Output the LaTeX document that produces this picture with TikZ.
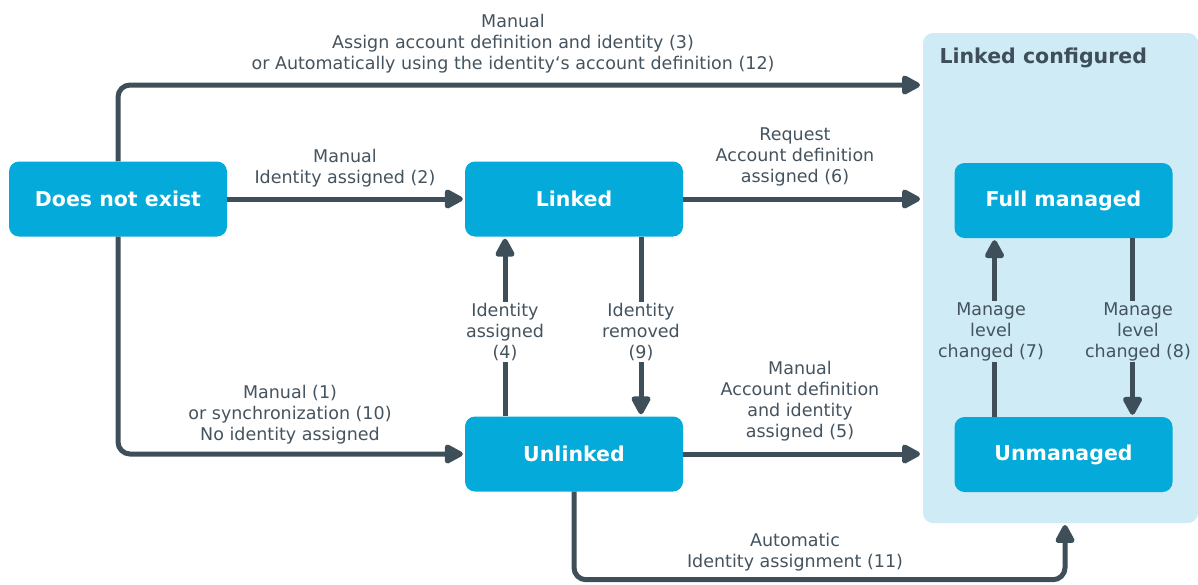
\documentclass[tikz,border=0pt]{standalone}
\usepackage{fontspec}
\setmainfont{DejaVu Sans}
\usetikzlibrary{arrows.meta}
\definecolor{nodeblue}{HTML}{04AAD9}
\definecolor{edgec}{HTML}{3F4F5A}
\definecolor{txt}{HTML}{44535E}
\definecolor{grpc}{HTML}{CFEBF6}
\begin{document}
\begin{tikzpicture}[x=1pt,y=-1pt,
 state/.style={fill=nodeblue, rounded corners=10pt, minimum width=218pt, minimum height=75pt, text=white, font=\fontsize{20.5}{24}\selectfont\bfseries, inner sep=0pt},
 conn/.style={draw=edgec, line width=5pt, rounded corners=12pt, -{Triangle[length=21pt,width=21pt,round]}},
 lbl/.style={text=txt, font=\fontsize{17.5}{21}\selectfont, align=center, inner sep=1pt},
]
\useasboundingbox (0,0) rectangle (1198,584);
\node[fill=grpc, rounded corners=10pt, minimum width=275pt, minimum height=490pt, inner sep=0pt] (grp) at (1060.5,278) {};
\node[anchor=west, text=edgec, font=\fontsize{20.5}{24}\selectfont\bfseries] (grpt) at (936,58) {Linked configured};

\node[state] (dne) at (118,199) {Does not exist};
\node[state] (lnk) at (574,199) {Linked};
\node[state] (unl) at (574,454) {Unlinked};
\node[state] (fm) at (1063.5,200.5) {Full managed};
\node[state] (unm) at (1063.5,454.5) {Unmanaged};

\coordinate (t3) at (920,85);
\coordinate (t6) at (920,199);
\coordinate (t5) at (920,454);
\coordinate (t11) at (1065,525);

\draw[conn] (dne.north) |- (t3);
\draw[conn, shorten >=2pt] (dne.east) -- (lnk.west);
\draw[conn, shorten >=2pt] (dne.south) |- (unl.west);
\draw[conn] (lnk.east) -- (t6);
\draw[conn] (unl.east) -- (t5);
\draw[conn] (unl.south) -- ++(0,88) -| (t11);
\draw[conn, shorten >=2pt] ([xshift=-69pt]unl.north) -- ([xshift=-69pt]lnk.south);
\draw[conn, shorten >=2pt] ([xshift=67pt]lnk.south) -- ([xshift=67pt]unl.north);
\draw[conn, shorten >=2pt] ([xshift=-69pt]unm.north) -- ([xshift=-69pt]fm.south);
\draw[conn, shorten >=2pt] ([xshift=69pt]fm.south) -- ([xshift=69pt]unm.north);

\node[lbl] (l3) at (513,44) {Manual\\Assign account definition and identity (3)\\or Automatically using the identity‘s account definition (12)};
\node[lbl] (l2) at (345,168) {Manual\\Identity assigned (2)};
\node[lbl] (l1) at (290,414.5) {Manual (1)\\or synchronization (10)\\No identity assigned};
\node[lbl, fill=white] (l4) at (505,332) {Identity\\assigned\\(4)};
\node[lbl, fill=white] (l9) at (641,332) {Identity\\removed\\(9)};
\node[lbl] (l6) at (795,157) {Request\\Account definition\\assigned (6)};
\node[lbl] (l5) at (800,401) {Manual\\Account definition\\and identity\\assigned (5)};
\node[lbl] (l11) at (795,552) {Automatic\\Identity assignment (11)};
\node[lbl, fill=grpc] (l7) at (991,331.5) {Manage\\level\\changed (7)};
\node[lbl, fill=grpc] (l8) at (1138,331.5) {Manage\\level\\changed (8)};
\end{tikzpicture}
\end{document}
